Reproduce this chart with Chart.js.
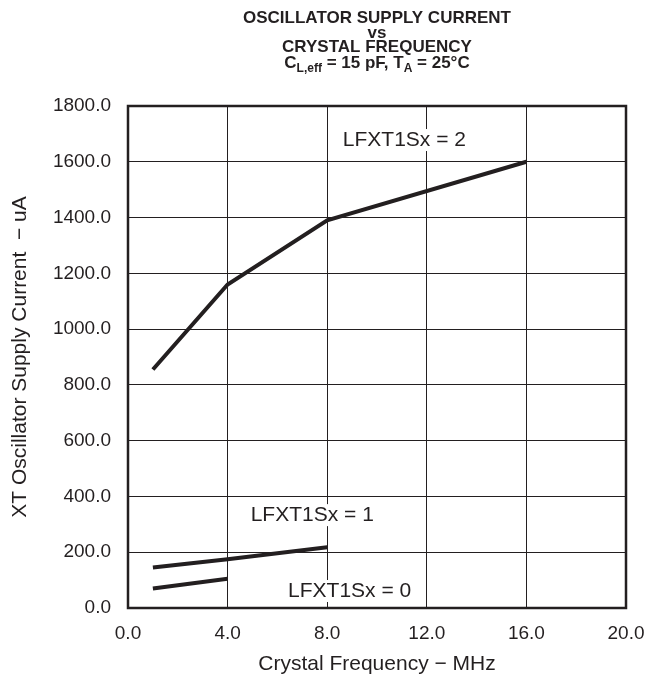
<!DOCTYPE html>
<html lang="en">
<head>
  <meta charset="UTF-8" />
  <title>Oscillator Supply Current vs Crystal Frequency</title>
  <script src="https://cdn.jsdelivr.net/npm/chart.js"></script>
  <style>
    body { margin: 0; background: #fff; }
    #wrap { width: 661px; height: 681px; }
  </style>
</head>
<body>
  <div id="wrap"><canvas id="chart" width="661" height="681"></canvas></div>

  <script>
    // data (MHz, uA)
    const freq2 = [1, 4, 8, 16];
    const cur2  = [855, 1160, 1390, 1600];
    const freq1 = [1, 4, 8];
    const cur1  = [145, 175, 218];
    const freq0 = [1, 4];
    const cur0  = [70, 105];

    const curveLabels = ['LFXT1Sx = 2', 'LFXT1Sx = 1', 'LFXT1Sx = 0'];
    const labelAt = [[11.1, 1678], [7.4, 333], [8.9, 61]];

    const xTicks = [0, 4, 8, 12, 16, 20];
    const yTicks = [0, 200, 400, 600, 800, 1000, 1200, 1400, 1600, 1800];

    const ink = '#231f20';
    const FONT = '"Liberation Sans", Arial, sans-serif';

    const pts = (xs, ys) => xs.map((x, i) => ({ x: x, y: ys[i] }));

    // title, frame and curve labels
    const extras = {
      id: 'extras',
      beforeDatasetsDraw(chart) {
        // labels sit on a white patch that breaks the grid
        const ctx = chart.ctx;
        const sx = chart.scales.x, sy = chart.scales.y;
        ctx.save();
        ctx.font = '21px ' + FONT;
        ctx.fillStyle = '#fff';
        curveLabels.forEach((t, i) => {
          const w = ctx.measureText(t).width;
          const px = sx.getPixelForValue(labelAt[i][0]), py = sy.getPixelForValue(labelAt[i][1]);
          ctx.fillRect(px - w / 2 - 3, py - 11, w + 6, 22);
        });
        ctx.restore();
      },
      afterDraw(chart) {
        const ctx = chart.ctx;
        const a = chart.chartArea;
        const sx = chart.scales.x, sy = chart.scales.y;
        ctx.save();
        ctx.strokeStyle = ink;
        ctx.lineWidth = 2.5;
        ctx.strokeRect(a.left, a.top, a.right - a.left, a.bottom - a.top);

        ctx.fillStyle = ink;
        ctx.font = '21px ' + FONT;
        ctx.textAlign = 'center';
        ctx.textBaseline = 'middle';
        curveLabels.forEach((t, i) => {
          ctx.fillText(t, sx.getPixelForValue(labelAt[i][0]), sy.getPixelForValue(labelAt[i][1]));
        });

        // title
        const cx = (a.left + a.right) / 2;
        ctx.font = 'bold 17px ' + FONT;
        ctx.textBaseline = 'alphabetic';
        ctx.fillText('OSCILLATOR SUPPLY CURRENT', cx, 23);
        ctx.fillText('vs', cx, 38);
        ctx.fillText('CRYSTAL FREQUENCY', cx, 52);

        // last line with subscripts
        const big = 'bold 17px ' + FONT, small = 'bold 12px ' + FONT;
        const parts = [['C', big, 0], ['L,eff', small, 4], [' = 15 pF, T', big, 0], ['A', small, 4], [' = 25°C', big, 0]];
        let w = 0;
        parts.forEach(p => { ctx.font = p[1]; w += ctx.measureText(p[0]).width; });
        let x = cx - w / 2;
        ctx.textAlign = 'left';
        parts.forEach(p => {
          ctx.font = p[1];
          ctx.fillText(p[0], x, 68 + p[2]);
          x += ctx.measureText(p[0]).width;
        });
        ctx.restore();
      }
    };

    const line = (xs, ys) => ({
      data: pts(xs, ys),
      borderColor: ink,
      borderWidth: 4,
      pointRadius: 0,
      fill: false,
      tension: 0
    });

    new Chart(document.getElementById('chart'), {
      type: 'line',
      data: { datasets: [line(freq2, cur2), line(freq1, cur1), line(freq0, cur0)] },
      options: {
        responsive: false,
        animation: false,
        layout: { padding: { top: 106, right: 35, left: 0, bottom: 0 } },
        plugins: { legend: { display: false }, tooltip: { enabled: false }, title: { display: false } },
        scales: {
          x: {
            type: 'linear',
            min: 0, max: 20,
            afterBuildTicks: s => { s.ticks = xTicks.map(v => ({ value: v })); },
            afterFit: s => { s.height = 73; },
            grid: { color: ink, lineWidth: 1, drawTicks: false },
            border: { display: false },
            ticks: { color: ink, font: { family: FONT, size: 19 }, padding: 14, callback: v => v.toFixed(1), maxRotation: 0 },
            title: { display: true, text: 'Crystal Frequency − MHz', color: ink, font: { family: FONT, size: 21 }, padding: { top: 0, bottom: 4 } }
          },
          y: {
            type: 'linear',
            min: 0, max: 1800,
            afterBuildTicks: s => { s.ticks = yTicks.map(v => ({ value: v })); },
            afterFit: s => { s.width = 128; },
            grid: { color: ink, lineWidth: 1, drawTicks: false },
            border: { display: false },
            ticks: { color: ink, font: { family: FONT, size: 19 }, padding: 17, callback: v => v.toFixed(1) },
            title: { display: true, text: 'XT Oscillator Supply Current  − uA', color: ink, font: { family: FONT, size: 21 }, padding: { top: 8, bottom: 0 } }
          }
        }
      },
      plugins: [extras]
    });
  </script>
</body>
</html>
